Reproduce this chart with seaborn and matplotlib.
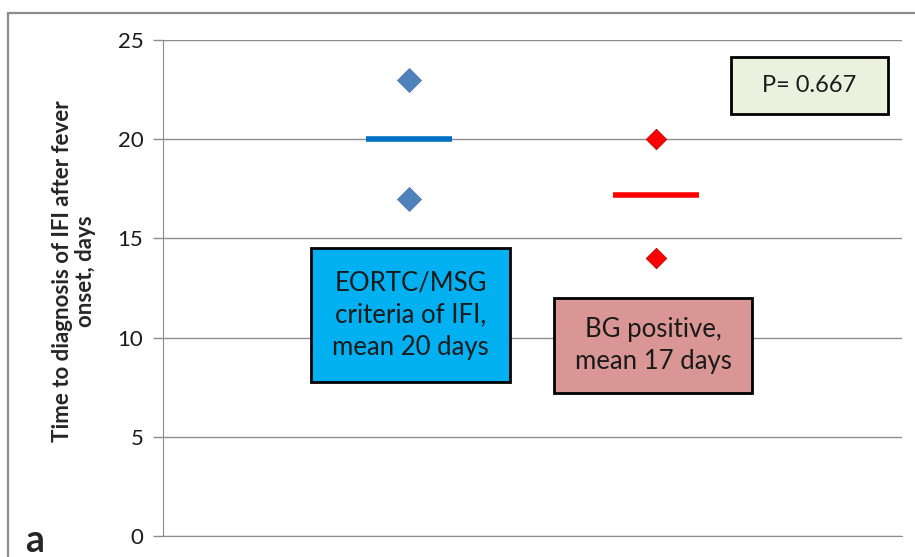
import numpy as np
import pandas as pd
import matplotlib.pyplot as plt
import matplotlib.patches as mpatches
import seaborn as sns

# datos
grupos = ['EORTC/MSG', 'BG positive']
x_grupo = [1, 1, 2, 2]
grupo_punto = ['EORTC/MSG', 'EORTC/MSG', 'BG positive', 'BG positive']
dias = [23, 17, 20, 14]
x_media = [1, 2]
medias = [20, 17.2]
ticks_y = [0, 5, 10, 15, 20, 25]

colores_punto = {'EORTC/MSG': '#4F81BD', 'BG positive': '#FF0000'}
colores_media = ['#0070C0', '#FF0000']

df = pd.DataFrame({'x': x_grupo, 'grupo': grupo_punto, 'dias': dias})

sns.set_style('white')
plt.rcParams['font.family'] = ['Lato', 'DejaVu Sans']

fig = plt.figure(figsize=(9.15, 5.57), dpi=100)
ax = fig.add_axes([0.178, 0.0377, 0.808, 0.8905])

# marco exterior del gráfico (recortado)
fig.patches.append(mpatches.Rectangle((8 / 915, -0.1), 1.2, (557 - 13) / 557 + 0.1,
                                      transform=fig.transFigure, fill=False,
                                      edgecolor='#8C8C8C', linewidth=1.6))

ax.set_axisbelow(True)
ax.yaxis.grid(True, color='#8C8C8C', linewidth=1.0)
ax.xaxis.grid(False)

sns.scatterplot(data=df[df.grupo == 'EORTC/MSG'], x='x', y='dias', ax=ax,
                marker='D', s=150, color=colores_punto['EORTC/MSG'],
                edgecolor='#3F6FA8', linewidth=0.5, legend=False, zorder=3)
sns.scatterplot(data=df[df.grupo == 'BG positive'], x='x', y='dias', ax=ax,
                marker='D', s=110, color=colores_punto['BG positive'],
                edgecolor='#A00000', linewidth=0.5, legend=False, zorder=3)

for xm, m, c in zip(x_media, medias, colores_media):
    ax.hlines(m, xm - 0.175, xm + 0.175, color=c, linewidth=4, zorder=3)

ax.set_xlim(0, 3)
ax.set_ylim(0, 25)
ax.set_yticks(ticks_y)
ax.set_xticks([])
ax.tick_params(axis='y', labelsize=16, colors='#8C8C8C', length=7,
               width=1, direction='out', pad=7, labelcolor='#1a1a1a')
ax.tick_params(axis='y', left=True)

for s in ['top', 'right']:
    ax.spines[s].set_visible(False)
ax.spines['left'].set_color('#8C8C8C')
ax.spines['bottom'].set_color('#8C8C8C')

ax.set_xlabel('')
ax.set_ylabel('Time to diagnosis of IFI after fever\nonset, days',
              fontsize=16, fontweight='bold', linespacing=1.12)
ax.yaxis.label.set_va('center')
ax.yaxis.set_label_coords(-0.12, 0.534)

# cajas de texto
cajas = [
    ((311, 248, 510, 382), '#00B0F0', 'EORTC/MSG\ncriteria of IFI,\nmean 20 days', 18.5),
    ((554, 298, 752, 393), '#D99694', 'BG positive,\nmean 17 days', 18.5),
    ((731, 57, 888, 114), '#EBF1DE', 'P= 0.667', 17),
]
for (x0, y0, x1, y1), col, txt, fs in cajas:
    fig.patches.append(mpatches.Rectangle((x0 / 915, (557 - y1) / 557),
                                          (x1 - x0) / 915, (y1 - y0) / 557,
                                          transform=fig.transFigure,
                                          facecolor=col, edgecolor='black',
                                          linewidth=2, zorder=5))
    fig.text((x0 + x1) / 2 / 915, (557 - (y0 + y1) / 2) / 557, txt,
             ha='center', va='center', fontsize=fs, linespacing=1.35,
             color='#1a1a1a', zorder=6)

fig.text(35 / 915, 5 / 557, 'a', fontsize=27, fontweight='bold',
         ha='center', va='baseline')

plt.savefig('out.png', dpi=100)
